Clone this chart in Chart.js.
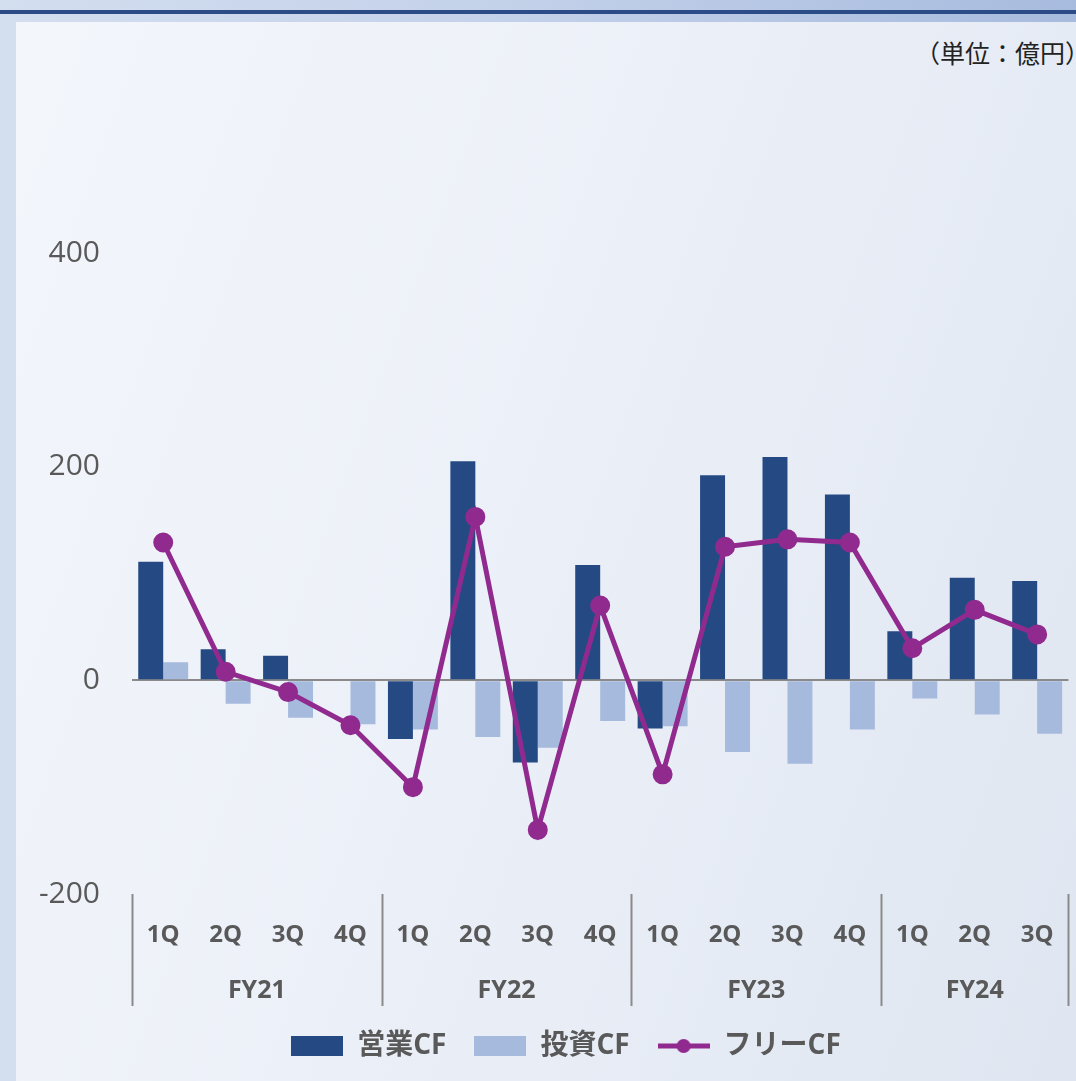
<!DOCTYPE html>
<html lang="ja">
<head>
<meta charset="UTF-8">
<title>キャッシュフロー推移</title>
<script src="https://cdn.jsdelivr.net/npm/chart.js"></script>
<style>
  html, body { margin: 0; padding: 0; }
  body {
    width: 1076px; height: 1081px; position: relative; overflow: hidden;
    background: linear-gradient(90deg, #d3deef 0%, #c2d0e9 50%, #a7bbde 100%);
  }
  #rule { position: absolute; left: 0; top: 10px; width: 1076px; height: 4px; background: #2c4c88; }
  #panel {
    position: absolute; left: 16px; top: 22px; right: 0; bottom: 0;
    background: linear-gradient(110deg, #f3f6fb 0%, #ecf0f8 45%, #dfe6f1 100%);
  }
  #unit {
    position: absolute; right: -14px; top: 34px; white-space: nowrap;
    font: 25px "Noto Sans CJK JP", sans-serif; color: #222;
  }
  #wrap { position: absolute; left: 0; top: 0; width: 1081px; height: 1081px; }
</style>
</head>
<body>
<div id="rule"></div>
<div id="panel"></div>
<div id="unit">（単位：億円）</div>
<div id="wrap"><canvas id="cfChart"></canvas></div>

<script>
  // 四半期・年度
  const quarters = ['1Q', '2Q', '3Q', '4Q', '1Q', '2Q', '3Q', '4Q', '1Q', '2Q', '3Q', '4Q', '1Q', '2Q', '3Q'];
  const fiscalYears = ['FY21', 'FY22', 'FY23', 'FY24'];
  const quartersPerYear = [4, 4, 4, 3];

  // 単位：億円
  const operatingCF = [111, 29, 23, 0, -55, 205, -77, 108, -45, 192, 209, 174, 46, 96, 93];
  const investingCF = [17, -22, -35, -41, -46, -53, -63, -38, -43, -67, -78, -46, -17, -32, -50];
  const freeCF = [129, 8, -11, -42, -100, 153, -140, 70, -88, 125, 132, 129, 30, 66, 43];

  const yTicks = [-200, 0, 200, 400];

  const DARK = '#254a83';
  const LIGHT = '#a6badd';
  const PURPLE = '#912a8e';
  const GRAY = '#595959';
  const FONT = '"Open Sans", "Noto Sans CJK JP", sans-serif';

  function legendSwatch(kind) {
    const c = document.createElement('canvas');
    c.width = 52; c.height = 22;
    const g = c.getContext('2d');
    if (kind === 'line') {
      g.strokeStyle = PURPLE; g.lineWidth = 5;
      g.beginPath(); g.moveTo(0, 11); g.lineTo(52, 11); g.stroke();
      g.fillStyle = PURPLE;
      g.beginPath(); g.arc(26, 11, 7, 0, Math.PI * 2); g.fill();
    } else {
      g.fillStyle = kind;
      g.fillRect(0, 1, 52, 20);
    }
    return c;
  }

  // 年度区切り線と年度ラベル
  const fyAxis = {
    id: 'fyAxis',
    afterLayout(chart) {
      // 凡例を少し右へ
      chart.legend.left += 27;
      chart.legend.right += 27;
    },
    afterDraw(chart) {
      const x = chart.scales.x;
      const ctx = chart.ctx;
      const top = chart.chartArea.bottom;
      const bottom = top + 112;
      const edges = [chart.chartArea.left];
      let idx = 0;
      quartersPerYear.forEach((n, k) => {
        const first = idx;
        idx += n;
        const last = idx - 1;
        const right = idx < quarters.length
          ? (x.getPixelForValue(last) + x.getPixelForValue(idx)) / 2
          : chart.chartArea.right;
        edges.push(right);
        const mid = (x.getPixelForValue(first) + x.getPixelForValue(last)) / 2;
        ctx.save();
        ctx.font = 'bold 25px ' + FONT;
        ctx.fillStyle = GRAY;
        ctx.textAlign = 'center';
        ctx.textBaseline = 'middle';
        ctx.fillText(fiscalYears[k], mid, top + 97);
        ctx.restore();
      });
      ctx.save();
      ctx.strokeStyle = '#8a8a8a';
      ctx.lineWidth = 2;
      edges.forEach(e => {
        ctx.beginPath();
        ctx.moveTo(Math.round(e) + 0.5, top);
        ctx.lineTo(Math.round(e) + 0.5, bottom);
        ctx.stroke();
      });
      ctx.restore();
    }
  };

  const data = {
    labels: quarters,
    datasets: [
      {
        type: 'bar', label: '営業CF', data: operatingCF,
        backgroundColor: DARK, order: 1,
        barPercentage: 1.0, categoryPercentage: 0.8
      },
      {
        type: 'bar', label: '投資CF', data: investingCF,
        backgroundColor: LIGHT, order: 1,
        barPercentage: 1.0, categoryPercentage: 0.8
      },
      {
        type: 'line', label: 'フリーCF', data: freeCF,
        borderColor: PURPLE, backgroundColor: PURPLE,
        borderWidth: 5, pointRadius: 7.5, pointHoverRadius: 7.5,
        tension: 0, order: 0
      }
    ]
  };

  const config = {
    type: 'bar',
    data: data,
    options: {
      responsive: true,
      maintainAspectRatio: false,
      animation: false,
      layout: { padding: { top: 253, right: 3, bottom: 11, left: 0 } },
      scales: {
        y: {
          min: -200, max: 400,
          afterFit(s) { s.width = 132; },
          afterBuildTicks(s) { s.ticks = yTicks.map(v => ({ value: v })); },
          border: { display: false },
          grid: {
            drawTicks: false,
            lineWidth: 2,
            color: c => (c.tick && c.tick.value === 0 ? '#8a8a8a' : 'rgba(0,0,0,0)')
          },
          ticks: {
            padding: 32,
            color: GRAY,
            font: { family: FONT, size: 30 }
          }
        },
        x: {
          afterFit(s) { s.height = 110; },
          border: { display: false },
          grid: { display: false, drawTicks: false },
          ticks: {
            padding: 27,
            color: GRAY,
            maxRotation: 0,
            autoSkip: false,
            font: { family: FONT, size: 24, weight: 'bold' }
          }
        }
      },
      plugins: {
        tooltip: { enabled: false },
        legend: {
          position: 'bottom',
          labels: {
            usePointStyle: true,
            pointStyleWidth: 52,
            boxHeight: 22,
            padding: 28,
            color: GRAY,
            font: { family: FONT, size: 28, weight: 'bold' },
            generateLabels() {
              return [
                { text: '営業CF', pointStyle: legendSwatch(DARK), fontColor: GRAY, datasetIndex: 0, lineWidth: 0 },
                { text: '投資CF', pointStyle: legendSwatch(LIGHT), fontColor: GRAY, datasetIndex: 1, lineWidth: 0 },
                { text: 'フリーCF', pointStyle: legendSwatch('line'), fontColor: GRAY, datasetIndex: 2, lineWidth: 0 }
              ];
            }
          }
        }
      }
    },
    plugins: [fyAxis]
  };

  const cfChart = new Chart(document.querySelector('#cfChart'), config);
</script>
</body>
</html>
